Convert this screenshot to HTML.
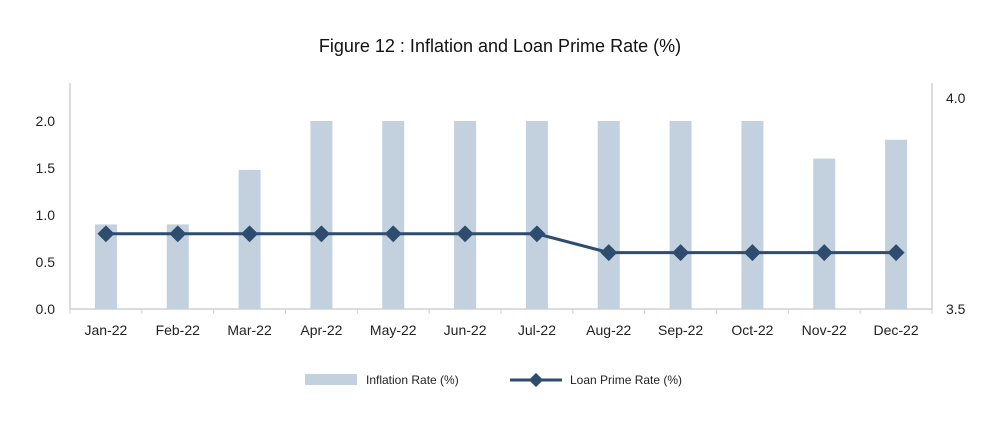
<!DOCTYPE html>
<html><head><meta charset="utf-8"><style>
body{margin:0;background:#fff;font-family:"Liberation Sans",sans-serif;}
</style></head><body>
<svg id="c" width="1000" height="424" xmlns="http://www.w3.org/2000/svg">
<text x="500" y="52" text-anchor="middle" font-size="18" fill="#111">Figure 12 : Inflation and Loan Prime Rate (%)</text>
<g id="plot"></g>
<g>
<rect x="305" y="374" width="52" height="11" fill="#c3d1de"/>
<text x="366" y="384" font-size="12" fill="#222">Inflation Rate (%)</text>
<line x1="510" y1="380" x2="562" y2="380" stroke="#2e4d6e" stroke-width="3"/>
<rect x="531" y="375" width="10" height="10" fill="#2e4d6e" transform="rotate(45 536 380)"/>
<text x="570" y="384" font-size="12" fill="#222">Loan Prime Rate (%)</text>
</g>
</svg>
<script>
const categories=["Jan-22","Feb-22","Mar-22","Apr-22","May-22","Jun-22","Jul-22","Aug-22","Sep-22","Oct-22","Nov-22","Dec-22"];
const inflation=[0.9,0.9,1.48,2.0,2.0,2.0,2.0,2.0,2.0,2.0,1.6,1.8];
const lpr=[0.8,0.8,0.8,0.8,0.8,0.8,0.8,0.6,0.6,0.6,0.6,0.6];
const leftTicks=[0,0.5,1.0,1.5,2.0];
const rightTicks=[3.5,4.0];
const NS="http://www.w3.org/2000/svg";
const g=document.getElementById('plot');
const X0=70,X1=932,Y0=309,YT=83;
const step=(X1-X0)/categories.length;
const xc=i=>X0+step*(i+0.5);
const y=v=>Y0-v*94;
const yr=v=>Y0-(v-3.5)*422;
function mk(t,a){const e=document.createElementNS(NS,t);for(const k in a)e.setAttribute(k,a[k]);g.appendChild(e);return e;}
let e;
e=mk('line',{x1:X0,y1:YT,x2:X0,y2:Y0,stroke:'#d0d0d0','stroke-width':1.5});


e=mk('line',{x1:X1,y1:YT,x2:X1,y2:Y0,stroke:'#d0d0d0','stroke-width':1.5});


e=mk('line',{x1:X0,y1:Y0,x2:X1,y2:Y0,stroke:'#d0d0d0','stroke-width':1.5});


for(let i=0;i<=categories.length;i++){
 e=mk('line',{x1:X0+step*i,y1:Y0,x2:X0+step*i,y2:Y0+5,stroke:'#d0d0d0','stroke-width':1});
 
 
}
leftTicks.forEach(v=>{
 e=mk('text',{x:55,y:y(v)+5,'text-anchor':'end','font-size':14,fill:'#222'});e.textContent=v.toFixed(1);
 
 
});
rightTicks.forEach(v=>{
 e=mk('text',{x:946,y:yr(v)+5,'font-size':14,fill:'#222'});e.textContent=v.toFixed(1);
 
 
});
categories.forEach((c,i)=>{
 e=mk('rect',{x:xc(i)-11,y:y(inflation[i]),width:22,height:Y0-y(inflation[i]),fill:'#c3d1de'});
 
 
 e=mk('text',{x:xc(i),y:335,'text-anchor':'middle','font-size':14,fill:'#222'});e.textContent=c;
 
 
});
e=mk('polyline',{points:lpr.map((v,i)=>xc(i)+','+y(v)).join(' '),fill:'none',stroke:'#2e4d6e','stroke-width':3});


lpr.forEach((v,i)=>{
 e=mk('rect',{x:xc(i)-6,y:y(v)-6,width:12,height:12,fill:'#2e4d6e',transform:`rotate(45 ${xc(i)} ${y(v)})`});
 
 
});
</script>
</body></html>
